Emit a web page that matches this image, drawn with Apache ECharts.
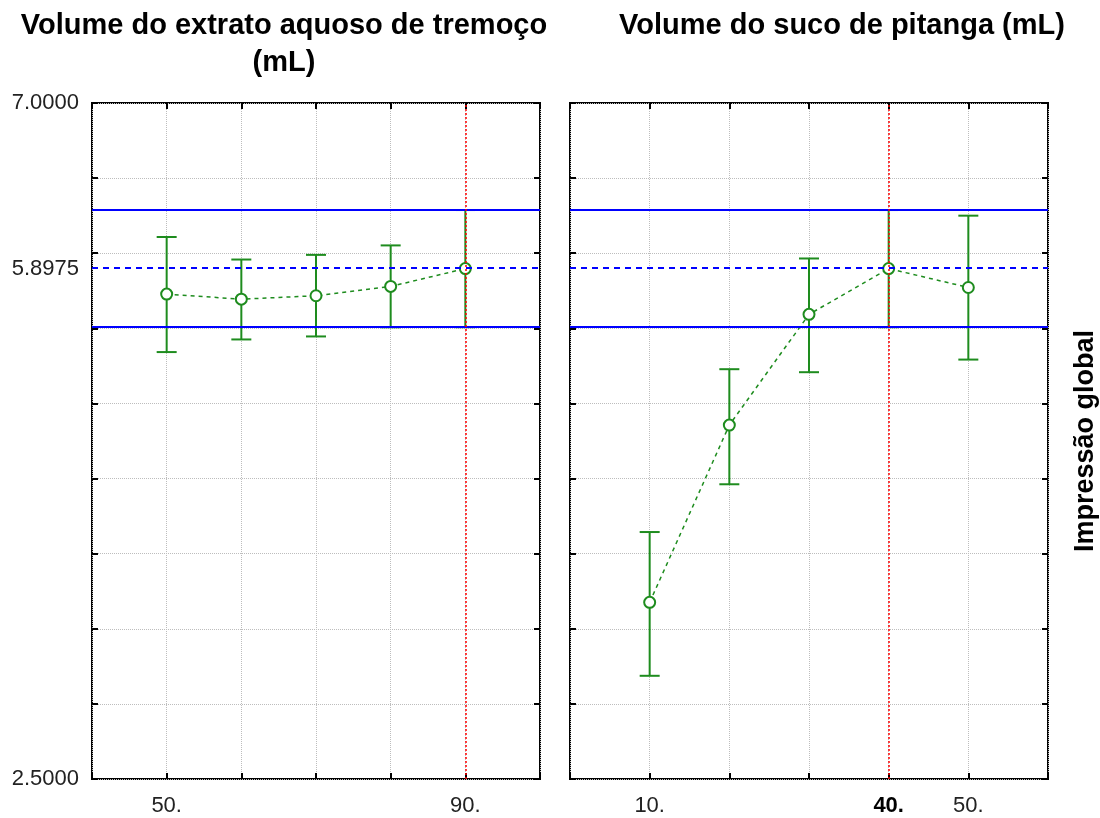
<!DOCTYPE html>
<html>
<head>
<meta charset="utf-8">
<script src="https://cdn.jsdelivr.net/npm/echarts@6/dist/echarts.min.js"></script>
<style>
html,body{margin:0;padding:0;background:#fff;}
#chart{width:1100px;height:818px;}
</style>
</head>
<body>
<div id="chart"></div>
<script>
// ---- data ----
const titleLupin = 'Volume do extrato aquoso de tremoço\n(mL)';
const titlePitanga = 'Volume do suco de pitanga (mL)';
const yName = 'Impressão global';

const xLupin = [50, 60, 70, 80, 90];
const meanLupin = [5.728, 5.694, 5.717, 5.779, 5.8975];
const lowLupin = [5.342, 5.426, 5.446, 5.507, 5.5075];
const highLupin = [6.108, 5.958, 5.989, 6.052, 6.2875];

const xPitanga = [10, 20, 30, 40, 50];
const meanPitanga = [3.676, 4.856, 5.593, 5.8975, 5.772];
const lowPitanga = [3.187, 4.462, 5.208, 5.5075, 5.292];
const highPitanga = [4.144, 5.228, 5.965, 6.2875, 6.250];

const refUpper = 6.2875;
const refMean = 5.8975;
const refLower = 5.5075;
const optLupin = 90;
const optPitanga = 40;

const yTickLabels = [2.5, 5.8975, 7.0];
const xTickLabelsLupin = [50, 90];
const xTickLabelsPitanga = [10, 40, 50];
const boldTick = 40;

// ---- styling ----
const GREEN = '#1e8c1e';
const BLUE = '#0000ff';
const RED = '#ff0000';
const FONT = '"Liberation Sans", Arial, sans-serif';

const chart = echarts.init(document.getElementById('chart'), null, {renderer: 'canvas'});

function errRender(params, api) {
  const x = api.value(0), lo = api.value(1), hi = api.value(2);
  const a = api.coord([x, lo]);
  const b = api.coord([x, hi]);
  const w = 10;
  const style = {stroke: GREEN, lineWidth: 2, fill: null};
  return {
    type: 'group',
    children: [
      {type: 'line', shape: {x1: a[0], y1: a[1], x2: b[0], y2: b[1]}, style},
      {type: 'line', shape: {x1: a[0] - w, y1: a[1], x2: a[0] + w, y2: a[1]}, style},
      {type: 'line', shape: {x1: b[0] - w, y1: b[1], x2: b[0] + w, y2: b[1]}, style}
    ]
  };
}

function tickStyle() {
  return {show: true, inside: true, length: 6, lineStyle: {color: '#000', width: 2}};
}
function gridLine() {
  return {show: true, lineStyle: {color: '#bdbdbd', type: 'dotted', width: 1}};
}

function xAxisDef(gridIndex, min, max, position, labels, withSplit) {
  return {
    type: 'value', gridIndex, min, max, interval: 10, position,
    axisLine: {show: false, onZero: false},
    axisTick: tickStyle(),
    splitLine: withSplit ? gridLine() : {show: false},
    axisLabel: labels ? {
      show: true, customValues: labels, margin: 16,
      fontSize: 22, fontFamily: FONT, color: '#222',
      formatter: v => (v === boldTick && gridIndex === 1) ? '{b|' + v + '.}' : v + '.',
      rich: {b: {fontSize: 22, fontFamily: FONT, fontWeight: 'bold', color: '#000'}}
    } : {show: false}
  };
}

function yAxisDef(gridIndex, position, labels, withSplit, name) {
  const ax = {
    type: 'value', gridIndex, min: 2.5, max: 7, interval: 0.5, position,
    axisLine: {show: false, onZero: false},
    axisTick: tickStyle(),
    splitLine: withSplit ? gridLine() : {show: false},
    axisLabel: labels ? {
      show: true, customValues: labels, margin: 13,
      fontSize: 22, fontFamily: FONT, color: '#222',
      formatter: v => v.toFixed(4)
    } : {show: false}
  };
  if (name) {
    ax.name = name;
    ax.nameLocation = 'middle';
    ax.nameRotate = 90;
    ax.nameGap = 24;
    ax.nameTextStyle = {fontSize: 27, fontWeight: 'bold', fontFamily: FONT, color: '#000'};
  }
  return ax;
}

function refLines(opt) {
  return {
    silent: true, symbol: 'none', label: {show: false},
    data: [
      {yAxis: refUpper, lineStyle: {color: BLUE, width: 2, type: 'solid'}},
      {yAxis: refMean, lineStyle: {color: BLUE, width: 2, type: [6, 5]}},
      {yAxis: refLower, lineStyle: {color: BLUE, width: 2, type: 'solid'}},
      {xAxis: opt, lineStyle: {color: RED, width: 1.5, type: [2, 2]}}
    ]
  };
}

function meanSeries(xi, yi, xs, ms) {
  return {
    type: 'line', xAxisIndex: xi, yAxisIndex: yi, z: 4,
    data: xs.map((x, i) => [x, ms[i]]),
    symbol: 'emptyCircle', symbolSize: 11,
    itemStyle: {color: GREEN, borderColor: GREEN, borderWidth: 1.5},
    lineStyle: {color: GREEN, width: 1.5, type: [4, 4]},
    animation: false
  };
}

function errSeries(xi, yi, xs, lo, hi) {
  return {
    type: 'custom', xAxisIndex: xi, yAxisIndex: yi, z: 3,
    renderItem: errRender,
    encode: {x: 0, y: [1, 2]},
    data: xs.map((x, i) => [x, lo[i], hi[i]]),
    animation: false
  };
}

const gridCommon = {show: true, borderColor: '#000', borderWidth: 2, backgroundColor: 'transparent',
  containLabel: false, outerBoundsMode: 'none'};

const option = {
  backgroundColor: '#fff',
  animation: false,
  title: [
    {text: titleLupin, left: 279, top: 2, textAlign: 'center',
     textStyle: {fontSize: 29, fontWeight: 'bold', fontFamily: FONT, color: '#000', lineHeight: 37}},
    {text: titlePitanga, left: 837, top: 2, textAlign: 'center',
     textStyle: {fontSize: 29, fontWeight: 'bold', fontFamily: FONT, color: '#000', lineHeight: 37}}
  ],
  grid: [
    Object.assign({left: 92, top: 103, width: 448, height: 676}, gridCommon),
    Object.assign({left: 570, top: 103, width: 478, height: 676}, gridCommon)
  ],
  xAxis: [
    xAxisDef(0, 40, 100, 'bottom', xTickLabelsLupin, true),
    xAxisDef(0, 40, 100, 'top', null, false),
    xAxisDef(1, 0, 60, 'bottom', xTickLabelsPitanga, true),
    xAxisDef(1, 0, 60, 'top', null, false)
  ],
  yAxis: [
    yAxisDef(0, 'left', yTickLabels, true),
    yAxisDef(0, 'right', null, false),
    yAxisDef(1, 'left', null, true),
    yAxisDef(1, 'right', null, false, yName)
  ],
  series: [
    {type: 'line', xAxisIndex: 0, yAxisIndex: 0, data: [], z: 2, markLine: refLines(optLupin)},
    {type: 'line', xAxisIndex: 2, yAxisIndex: 2, data: [], z: 2, markLine: refLines(optPitanga)},
    errSeries(0, 0, xLupin, lowLupin, highLupin),
    errSeries(2, 2, xPitanga, lowPitanga, highPitanga),
    meanSeries(0, 0, xLupin, meanLupin),
    meanSeries(2, 2, xPitanga, meanPitanga)
  ]
};

chart.setOption(option);
</script>
</body>
</html>
